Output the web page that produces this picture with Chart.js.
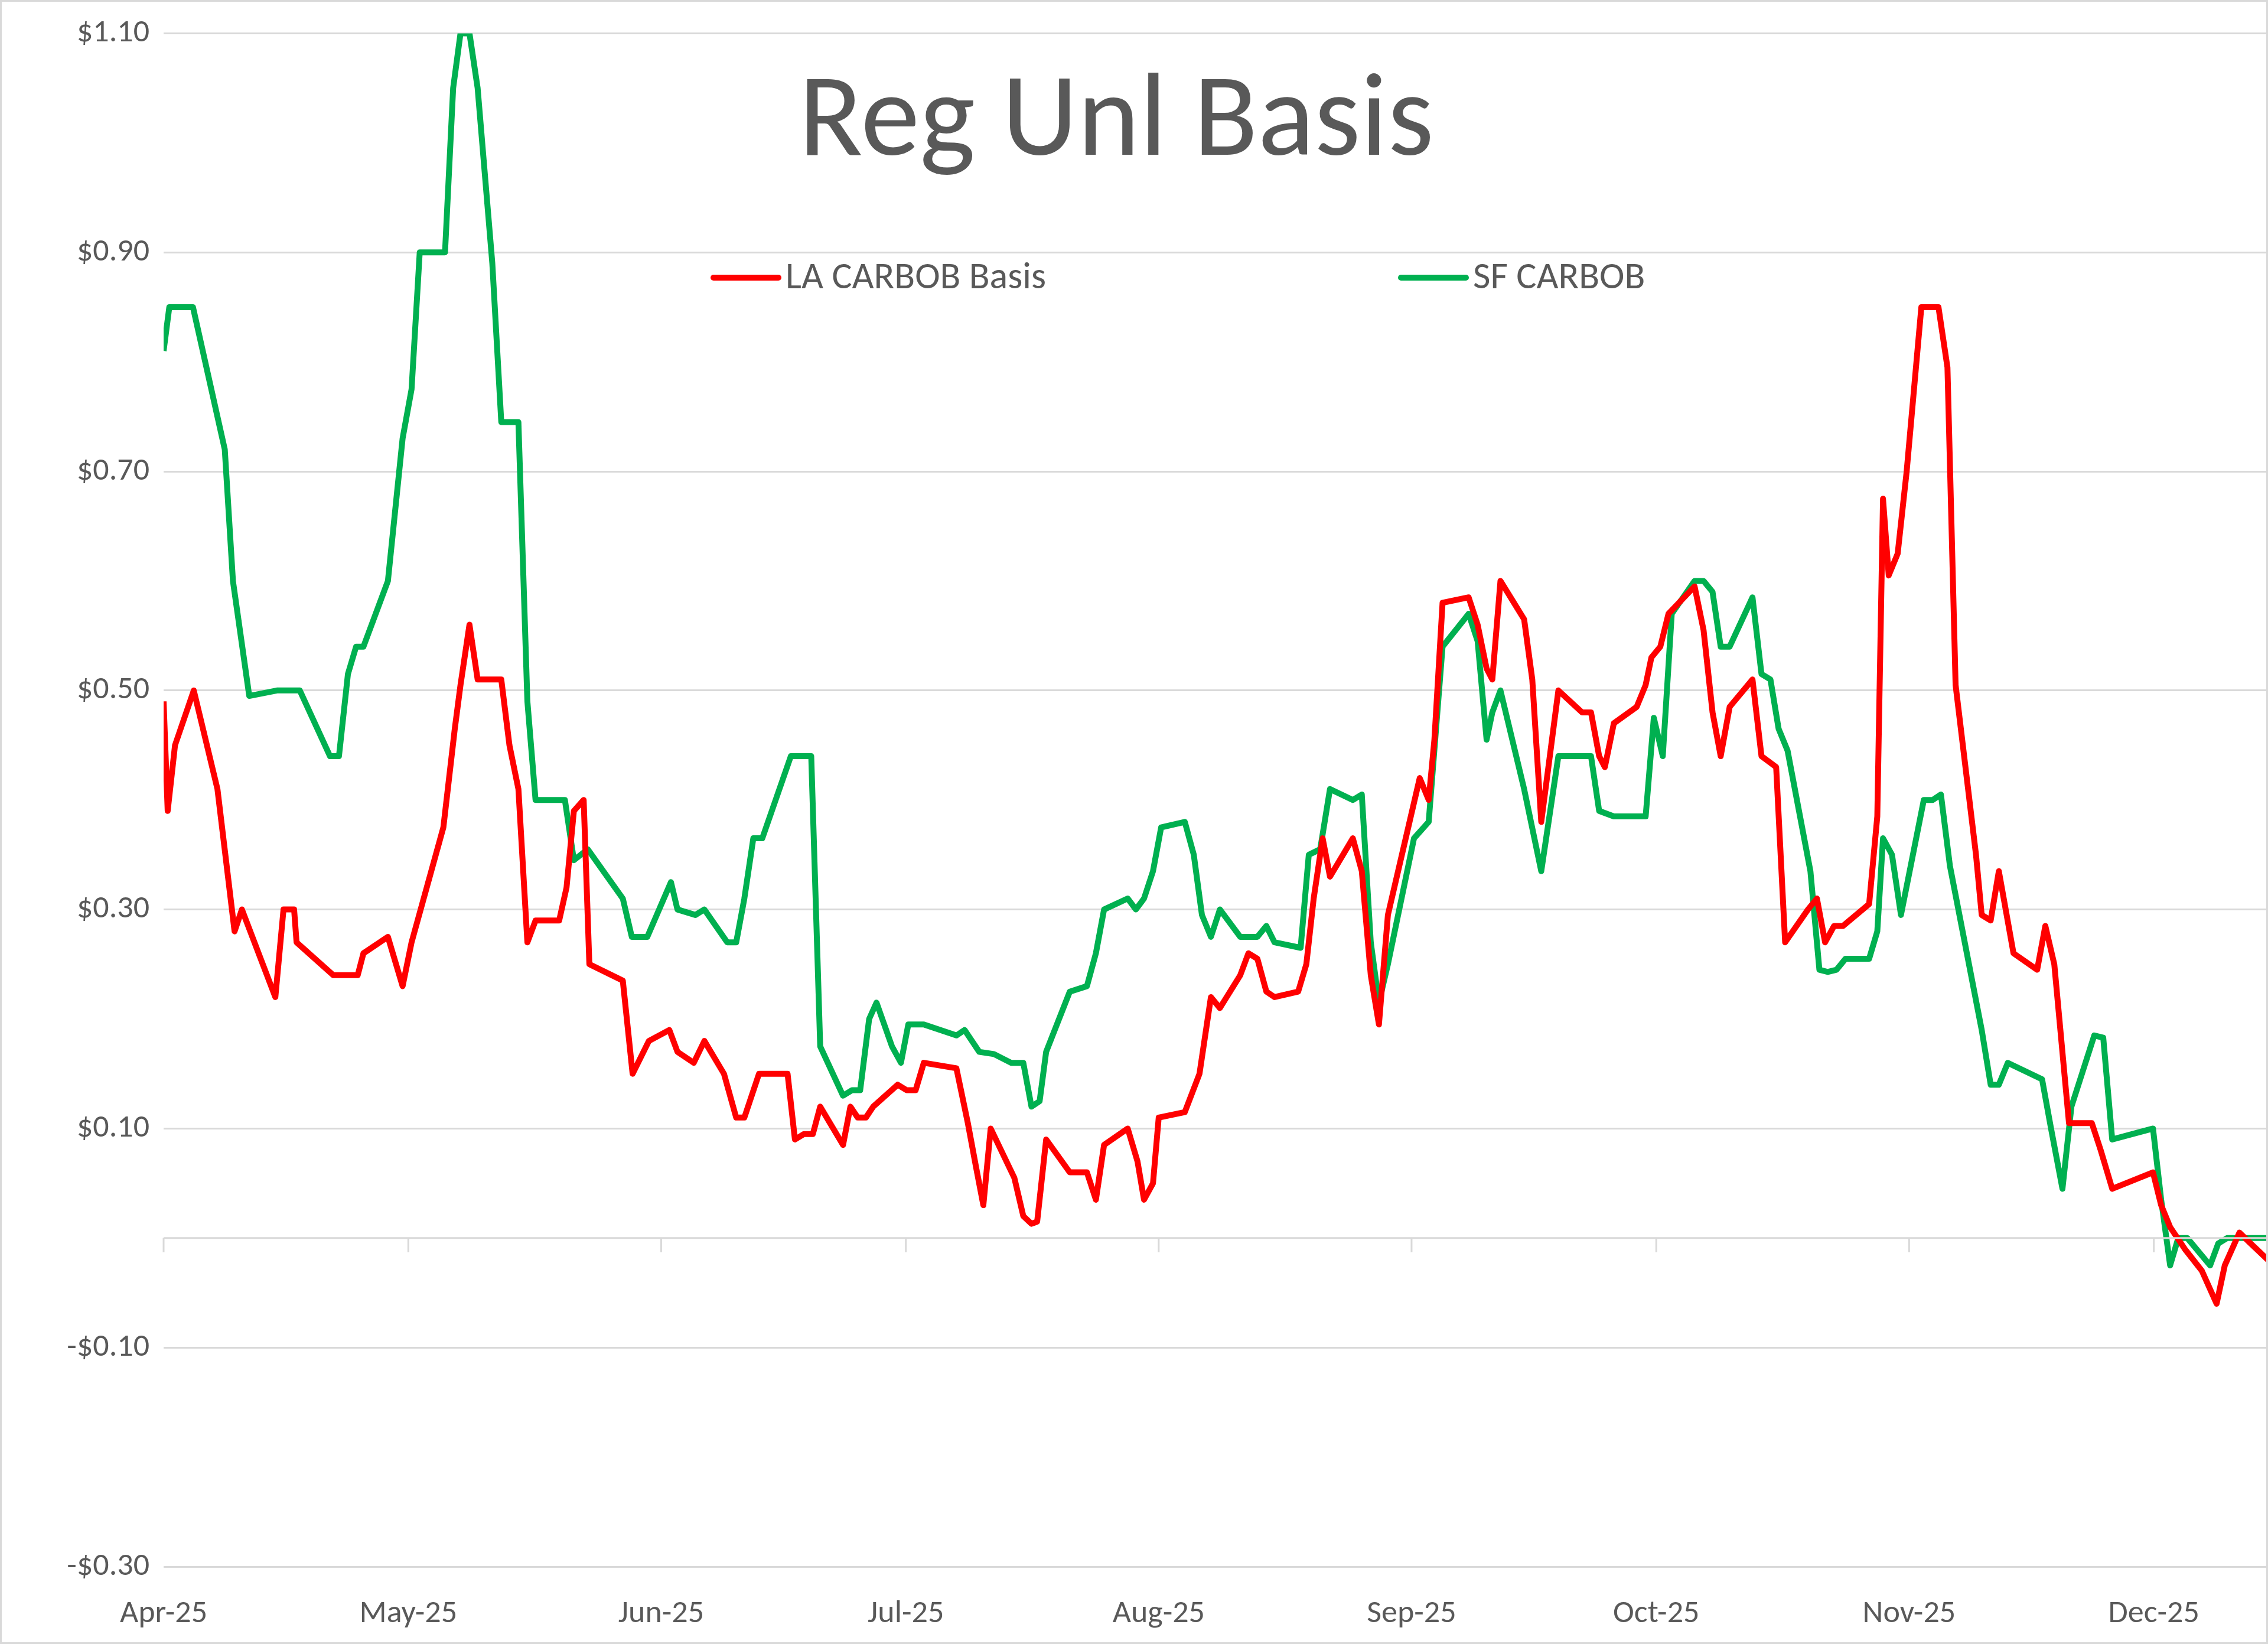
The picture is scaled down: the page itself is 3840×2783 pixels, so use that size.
<!DOCTYPE html>
<html><head><meta charset="utf-8">
<script src="https://cdn.jsdelivr.net/npm/chart.js@4"></script>
<style>html,body{margin:0;padding:0;background:#fff}canvas{display:block}</style>
</head><body>
<canvas id="c" width="3840" height="2783"></canvas>
<script>
// x = days since 1 Apr 2025
const monthDays = [0,30,61,91,122,153,183,214,244];
const monthLabels = ['Apr-25','May-25','Jun-25','Jul-25','Aug-25','Sep-25','Oct-25','Nov-25','Dec-25'];
const yTicks = [-0.3,-0.1,0.1,0.3,0.5,0.7,0.9,1.1];

const laDays = [0,0.5,1.4,3.7,6.6,8.7,9.6,13.7,14.7,16,16.3,20.8,23.8,24.5,27.5,29.3,30.4,34.3,35.7,36.4,37.5,38.5,41.4,42.4,43.5,44.6,45.6,48.5,49.4,50.3,51.5,52.2,56.3,57.5,59.5,62,63,65,66.3,68.7,70.2,71.2,73,76.5,77.4,78.5,79.6,80.5,83.3,84.2,85.1,86.1,87,90,91.1,92.2,93.2,97.2,98.6,99.6,100.5,101.4,104.3,105.4,106.4,107.1,108.2,111.1,113.2,114.3,115.3,118.2,119.4,120.2,121.3,122,125.2,127,128.4,129.5,132,133,134.1,135.2,136.2,139.1,140.1,141,142.1,143,145.8,146.9,148,149,150.1,154,155.1,155.8,156.8,160,161.1,162.2,162.9,163.9,166.8,167.8,168.9,171,173.9,175,176,176.7,177.8,180.6,181.7,182.4,183.5,184.5,187.7,188.8,189.9,190.9,192,194.8,195.9,197.7,198.8,201.6,202.7,203.7,204.8,205.9,209.1,210.1,210.8,211.5,212.6,213.7,215.5,217.6,218.7,219.7,222.2,222.9,224,225,226.8,229.7,230.7,231.8,233.6,236.4,237.5,238.9,243.9,244.9,246,247.8,249.9,251.7,252.7,254.5,255.6,258];
const laVals = [0.49,0.39,0.45,0.50,0.41,0.28,0.30,0.22,0.30,0.30,0.27,0.24,0.24,0.26,0.275,0.23,0.27,0.375,0.465,0.505,0.56,0.51,0.51,0.45,0.41,0.27,0.29,0.29,0.32,0.39,0.40,0.25,0.235,0.15,0.18,0.19,0.17,0.16,0.18,0.15,0.11,0.11,0.15,0.15,0.09,0.095,0.095,0.12,0.085,0.12,0.11,0.11,0.12,0.14,0.135,0.135,0.16,0.155,0.105,0.065,0.03,0.10,0.055,0.02,0.013,0.015,0.09,0.06,0.06,0.035,0.085,0.10,0.07,0.035,0.05,0.11,0.115,0.15,0.22,0.21,0.24,0.26,0.255,0.225,0.22,0.225,0.25,0.31,0.365,0.33,0.365,0.335,0.24,0.195,0.295,0.42,0.40,0.455,0.58,0.585,0.56,0.52,0.51,0.60,0.565,0.51,0.38,0.50,0.48,0.48,0.44,0.43,0.47,0.485,0.505,0.53,0.54,0.57,0.595,0.555,0.48,0.44,0.485,0.51,0.44,0.43,0.27,0.30,0.31,0.27,0.285,0.285,0.305,0.385,0.675,0.605,0.625,0.70,0.85,0.85,0.795,0.505,0.35,0.295,0.29,0.335,0.26,0.245,0.285,0.25,0.105,0.105,0.08,0.045,0.06,0.03,0.01,-0.01,-0.03,-0.06,-0.025,0.005,-0.003,-0.02];

const sfDays = [0,0.7,3.6,7.5,8.5,10.5,13.9,16.7,20.4,21.5,22.6,23.6,24.5,27.5,29.3,30.4,31.4,34.5,35.5,36.4,37.5,38.5,40.3,41.4,43.5,44.6,45.6,49.2,50.3,52,56.3,57.4,59.3,62.2,63,65.2,66.3,69.1,70.2,71.2,72.3,73.4,76.9,79.4,80.5,83.3,84.4,85.4,86.5,87.4,89.3,90.4,91.3,93.2,97.2,98.2,100,101.8,103.9,105.4,106.4,107.4,108.2,111.1,113.2,114.3,115.3,118.2,119.2,120.2,121.3,122.3,125.2,126.3,127.3,128.4,129.5,132,134.1,135.2,136.2,139.4,140.4,141.8,143,145.8,146.9,148,149,150.1,153.3,155.1,156.8,160,161.1,162.2,162.9,163.9,166.8,168.9,171,173.9,175,176,177.8,180.6,181.7,182.7,183.8,184.9,187.7,188.8,189.9,190.9,192,194.8,195.9,197,198,199.1,201.9,203,204,205.1,206.2,209.1,210.1,210.8,211.9,213,215.8,216.9,217.9,219,222.9,224,225,226.1,227.5,230.3,231.4,232.8,233.9,236.7,237.8,238.9,243.9,244.9,246,247,248.1,250.9,251.9,253,258];
const sfVals = [0.81,0.85,0.85,0.72,0.60,0.495,0.50,0.50,0.44,0.44,0.515,0.54,0.54,0.60,0.73,0.775,0.90,0.90,1.05,1.10,1.10,1.05,0.89,0.745,0.745,0.49,0.40,0.40,0.345,0.355,0.31,0.275,0.275,0.325,0.30,0.295,0.30,0.27,0.27,0.31,0.365,0.365,0.44,0.44,0.175,0.13,0.135,0.135,0.20,0.215,0.175,0.16,0.195,0.195,0.185,0.19,0.17,0.168,0.16,0.16,0.12,0.125,0.17,0.225,0.23,0.26,0.30,0.31,0.30,0.31,0.335,0.375,0.38,0.35,0.295,0.275,0.30,0.275,0.275,0.285,0.27,0.265,0.35,0.355,0.41,0.40,0.405,0.27,0.215,0.25,0.365,0.38,0.54,0.57,0.545,0.455,0.48,0.50,0.41,0.335,0.44,0.44,0.44,0.39,0.385,0.385,0.385,0.475,0.44,0.57,0.60,0.60,0.59,0.54,0.54,0.585,0.515,0.51,0.465,0.445,0.335,0.245,0.243,0.245,0.255,0.255,0.28,0.365,0.35,0.295,0.40,0.40,0.405,0.34,0.19,0.14,0.14,0.16,0.155,0.145,0.10,0.045,0.12,0.185,0.183,0.09,0.10,0.035,-0.025,0.0,0.0,-0.025,-0.005,0,0];

const toXY = (d,v)=>d.map((x,i)=>({x, y:v[i]}));
const TXT = '#595959';

const deco = {
  id:'deco',
  afterDatasetsDraw(ch){
    const {ctx, scales:{x,y}, chartArea:a} = ch;
    ctx.save();
    // zero axis line with ticks
    const y0 = y.getPixelForValue(0);
    ctx.strokeStyle = '#d9d9d9'; ctx.lineWidth = 3;
    ctx.beginPath(); ctx.moveTo(a.left,y0); ctx.lineTo(a.right,y0);
    monthDays.forEach(d=>{const px=x.getPixelForValue(d); ctx.moveTo(px,y0); ctx.lineTo(px,y0+24);});
    ctx.stroke();
    // title
    ctx.fillStyle = TXT; ctx.textAlign='center'; ctx.textBaseline='middle';
    ctx.font = '200px Calibri, Carlito, "Open Sans", sans-serif';
    ctx.fillText('Reg Unl Basis', 1890, 212);
    // legend
    ctx.font = '64px Calibri, Carlito, "Open Sans", sans-serif';
    ctx.textAlign='left';
    ctx.lineWidth = 10; ctx.lineCap='round';
    [[1208,'#ff0000','LA CARBOB Basis'],[2372,'#00b050','SF CARBOB']].forEach(([lx,c,t])=>{
      ctx.strokeStyle=c; ctx.beginPath(); ctx.moveTo(lx,470); ctx.lineTo(lx+110,470); ctx.stroke();
      ctx.fillText(t, lx+122, 472);
    });
    // outer frame
    ctx.strokeStyle='#d9d9d9'; ctx.lineWidth=3; ctx.strokeRect(1.5,1.5,3837,2780);
    ctx.restore();
  }
};

new Chart(document.getElementById('c'), {
  type:'line',
  data:{datasets:[
    {label:'LA CARBOB Basis', data:toXY(laDays,laVals), borderColor:'#ff0000', borderWidth:10, pointRadius:0, tension:0, borderJoinStyle:'round'},
    {label:'SF CARBOB', data:toXY(sfDays,sfVals), borderColor:'#00b050', borderWidth:10, pointRadius:0, tension:0, borderJoinStyle:'round'}
  ]},
  options:{
    responsive:false, animation:false, devicePixelRatio:1,
    layout:{padding:{top:42,right:0,left:0,bottom:0}},
    plugins:{legend:{display:false}, title:{display:false}, tooltip:{enabled:false}},
    scales:{
      x:{type:'linear', min:0, max:258,
        afterBuildTicks(s){ s.ticks = monthDays.map(v=>({value:v})); },
        afterFit(s){ s.height = 131; },
        grid:{display:false}, border:{display:false},
        ticks:{autoSkip:false, maxRotation:0, color:TXT, font:{size:54, family:'Calibri, Carlito, "Open Sans", sans-serif'}, padding:40,
          callback:(v)=>monthLabels[monthDays.indexOf(v)]}
      },
      y:{min:-0.3, max:1.1,
        afterBuildTicks(s){ s.ticks = yTicks.map(v=>({value:v})); },
        afterFit(s){ s.width = 277; },
        grid:{color:'#d9d9d9', lineWidth:3, drawTicks:false}, border:{display:false},
        ticks:{color:TXT, padding:24, font:{size:54, family:'Calibri, Carlito, "Open Sans", sans-serif'},
          callback:(v)=>(v<0?'-$':'$')+Math.abs(v).toFixed(2)}
      }
    }
  },
  plugins:[deco]
});
</script>
</body></html>
